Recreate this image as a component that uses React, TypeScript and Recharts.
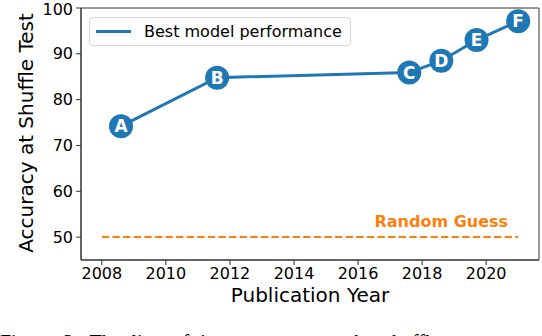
import { Line, LineChart, ReferenceArea, ReferenceDot, XAxis, YAxis } from 'recharts';

const letters = ['A', 'B', 'C', 'D', 'E', 'F'];
const years = [2008.6, 2011.6, 2017.6, 2018.6, 2019.7, 2021.0];
const accuracy = [74.2, 84.8, 85.9, 88.5, 93.0, 97.1];
const randomYears = [2008, 2021];
const randomAccuracy = [50, 50];
const xTicks = [2008, 2010, 2012, 2014, 2016, 2018, 2020];
const yTicks = [50, 60, 70, 80, 90, 100];

const blue = '#1f77b4';
const orange = '#ff7f0e';
const font = 'DejaVu Sans, sans-serif';

const modelData = years.map((year, i) => ({ year, acc: accuracy[i], letter: letters[i] }));
const randomData = randomYears.map((year, i) => ({ year, acc: randomAccuracy[i] }));

const xDomain: [number, number] = [2007.35, 2021.65];
const yDomain: [number, number] = [45, 100];

function LetterDot(props: any) {
  const { cx, cy, index } = props;
  if (cx == null || cy == null) return null;
  return (
    <g key={`dot-${index}`}>
      <circle cx={cx} cy={cy} r={12} fill={blue} />
      <text
        x={cx}
        y={cy}
        dy={6}
        textAnchor="middle"
        fill="#fff"
        fontFamily={font}
        fontWeight="bold"
        fontSize={17}
      >
        {letters[index]}
      </text>
    </g>
  );
}

function LegendBox() {
  return (
    <div
      style={{
        position: 'absolute',
        left: 89,
        top: 17,
        display: 'flex',
        alignItems: 'center',
        border: '1px solid #d6d6d6',
        borderRadius: 4,
        background: 'rgba(255,255,255,0.8)',
        padding: '4px 8px 4px 6px',
        fontFamily: font,
        fontSize: 16,
        lineHeight: '19px',
        color: '#000',
      }}
    >
      <span style={{ display: 'inline-block', width: 35, height: 3, background: blue, marginRight: 13 }} />
      <span>Best model performance</span>
    </div>
  );
}

export default function App() {
  return (
    <div style={{ position: 'absolute', left: 0, top: 0, width: 542, height: 336, overflow: 'hidden', background: '#fff' }}>
      <LineChart width={542} height={336} margin={{ top: 8, right: 3, left: 0, bottom: 36 }}>
        <XAxis
          type="number"
          dataKey="year"
          domain={xDomain}
          ticks={xTicks}
          allowDataOverflow
          height={40}
          tickSize={5}
          tickMargin={3}
          stroke="#333"
          tick={{ fill: '#000', fontSize: 16, fontFamily: font }}
          label={{
            content: () => (
              <text x={310} y={302} textAnchor="middle" fontFamily={font} fontSize={20} fill="#000">
                Publication Year
              </text>
            ),
          }}
        />
        <YAxis
          type="number"
          dataKey="acc"
          domain={yDomain}
          ticks={yTicks}
          allowDataOverflow
          width={81}
          tickSize={5}
          tickMargin={3}
          stroke="#333"
          tick={{ fill: '#000', fontSize: 16, fontFamily: font }}
          label={{
            content: () => (
              <text
                x={33}
                y={133}
                transform="rotate(-90 33 133)"
                textAnchor="middle"
                fontFamily={font}
                fontSize={20}
                fill="#000"
              >
                Accuracy at Shuffle Test
              </text>
            ),
          }}
        />
        <ReferenceArea x1={xDomain[0]} x2={xDomain[1]} y1={yDomain[0]} y2={yDomain[1]} fill="none" stroke="#333" strokeWidth={1} />
        <Line
          data={randomData}
          dataKey="acc"
          stroke={orange}
          strokeWidth={2}
          strokeDasharray="7.4 3.2"
          dot={false}
          activeDot={false}
          isAnimationActive={false}
        />
        <Line
          data={modelData}
          dataKey="acc"
          name="Best model performance"
          stroke={blue}
          strokeWidth={3}
          dot={LetterDot}
          activeDot={false}
          isAnimationActive={false}
        />
        <ReferenceDot
          x={2018.6}
          y={50}
          r={0}
          fill="none"
          stroke="none"
          label={{
            value: 'Random Guess',
            position: 'top',
            offset: 10,
            fill: orange,
            fontWeight: 'bold',
            fontSize: 16,
            fontFamily: font,
          }}
        />
      </LineChart>
      <LegendBox />
      <div
        style={{
          position: 'absolute',
          left: 0,
          top: 330,
          whiteSpace: 'nowrap',
          fontFamily: 'Liberation Serif, serif',
          fontSize: 20,
          lineHeight: '24px',
          wordSpacing: 6,
        }}
      >
        Figure 3: The line of improvement on the shuffle test
      </div>
    </div>
  );
}
